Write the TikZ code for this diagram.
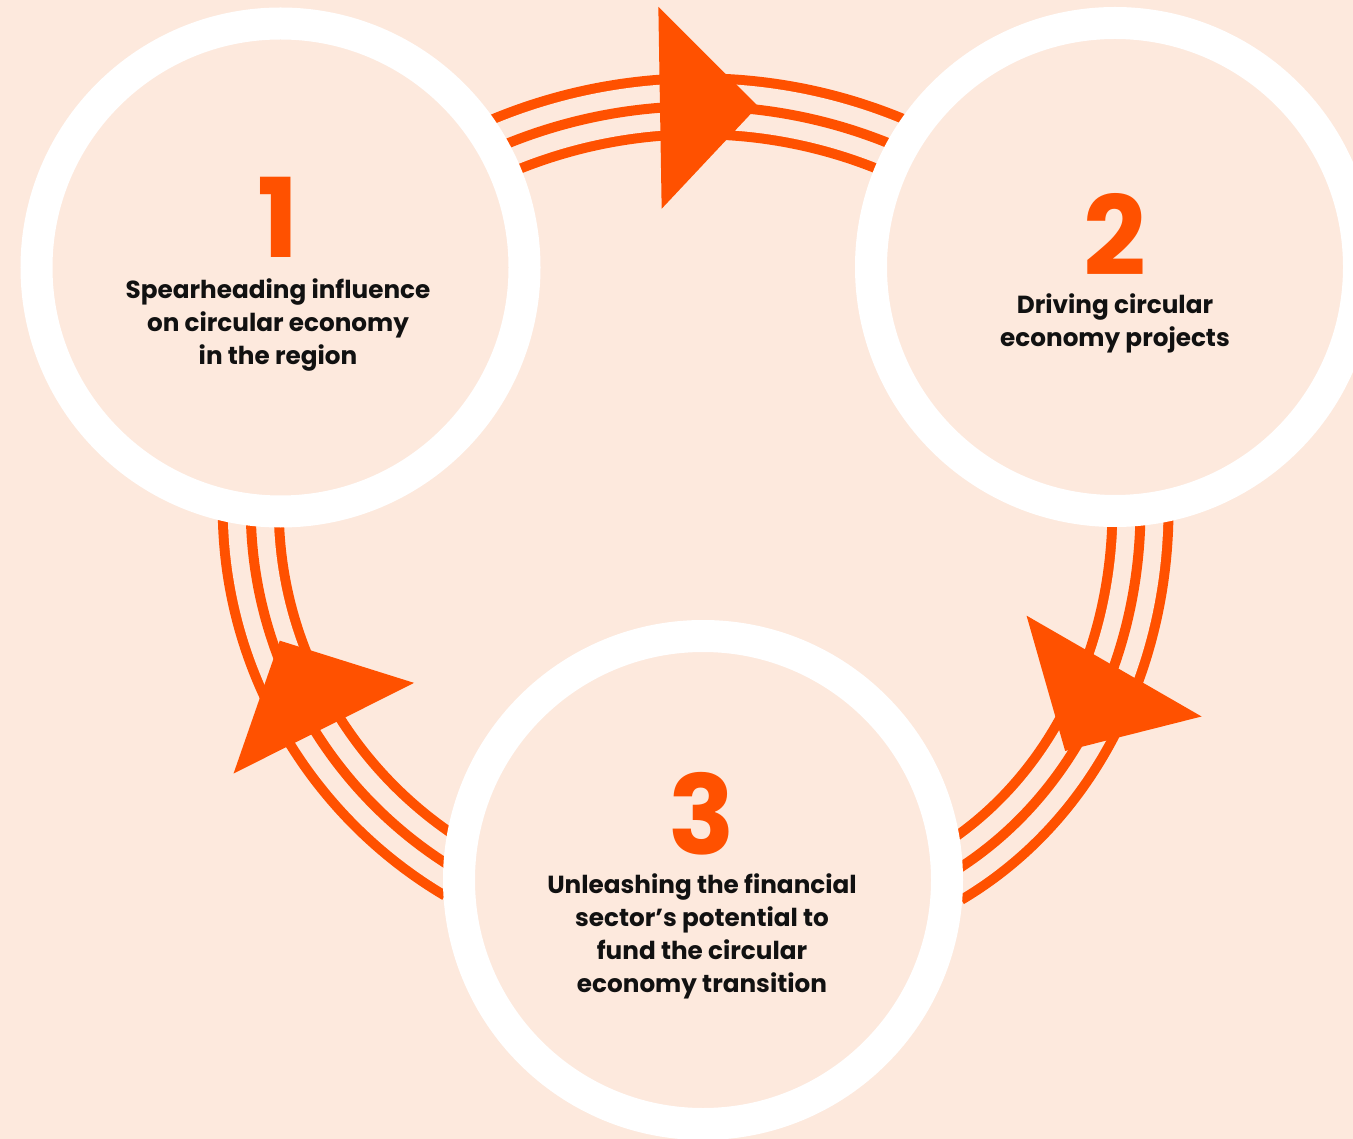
\documentclass[tikz,border=0pt]{standalone}
\usepackage{fontspec}
\setmainfont{Poppins}
\usetikzlibrary{calc,decorations.markings}
\definecolor{peach}{HTML}{FDE9DD}
\definecolor{flame}{HTML}{FF5100}
\definecolor{ink}{HTML}{111111}
\pgfdeclarelayer{paper}
\pgfdeclarelayer{back}
\pgfsetlayers{paper,back,main}
\begin{document}
\begin{tikzpicture}[x=1pt,y=-1pt,
  stage/.style={circle, draw=white, line width=32pt, fill=peach,
    minimum size=488pt, inner sep=0pt, outer sep=0pt},
  numeral/.style={text=flame, font=\fontsize{110}{110}\selectfont\bfseries,
    inner sep=0pt, anchor=base, text height=80pt, text depth=0pt},
  caption/.style={text=ink, font=\fontsize{24.7}{33}\selectfont\bfseries,
    align=center, inner sep=0pt, anchor=base},
  triple/.style={draw=flame, line width=66pt,
    postaction={draw=peach, line width=46pt},
    postaction={draw=flame, line width=10pt}},
  % big triangular head: position along the path, extra turn, sideways offset
  headat/.style n args={3}{postaction={decorate, decoration={markings,
    mark=at position #1 with {\fill[flame, rotate=#2, yshift=#3]
      (0pt,101pt) -- (98pt,0pt) -- (0pt,-101pt) -- cycle;}}}}
]
\useasboundingbox (0,0) rectangle (1353,1139);
\begin{pgfonlayer}{paper}
\fill[peach] (0,0) rectangle (1353,1139);
\end{pgfonlayer}

% the three stages
\node[stage] (c1) at (280.5,267.5) {};
\node[stage] (c2) at (1115,267) {};
\node[stage] (c3) at (703,880) {};

\node[numeral] (n1) at (278,258) {1};
\node[numeral] (n2) at (1115,276) {2};
\node[numeral] (n3) at (702,854) {3};

% captions: the base anchor sits on the last line
\node[caption] (t1) at (278,365) {Spearheading influence\\on circular economy\\in the region};
\node[caption] (t2) at (1115,347) {Driving circular\\economy projects};
\node[caption] (t3) at (702,992) {Unleashing the financial\\sector’s potential to\\fund the circular\\economy transition};

% cycle of triple-line arrows, kept behind the circles
\begin{pgfonlayer}{back}
\draw[triple, headat={0.41}{-3.4}{0pt}]
  (c1.29) to[out=23.7, in=156.3, looseness=0.89] (c2.151);
\draw[triple, headat={0.368}{-10.6}{0pt}]
  (c2.276.6) to[out=269.9, in=30.6, looseness=0.91] (c3.1.8);
\draw[triple, headat={0.462}{-5.6}{-9pt}]
  (c3.178.2) to[out=149.4, in=270.1, looseness=0.91] (c1.263.4);
\end{pgfonlayer}
\end{tikzpicture}
\end{document}
